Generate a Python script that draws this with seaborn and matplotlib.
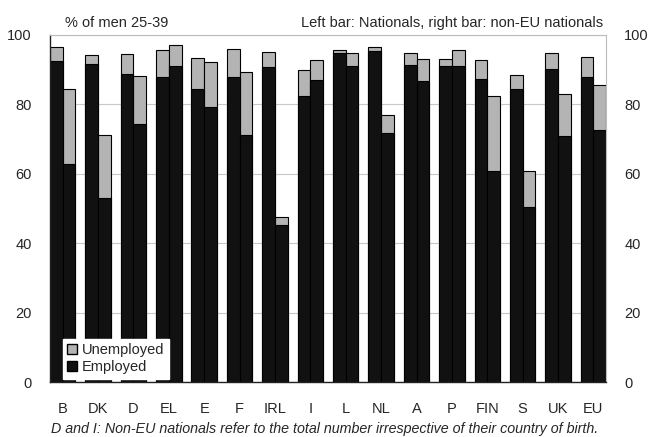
import pandas as pd
import matplotlib.pyplot as plt
import seaborn as sns
from matplotlib.patches import Patch

countries = ['B', 'DK', 'D', 'EL', 'E', 'F', 'IRL', 'I', 'L', 'NL', 'A', 'P', 'FIN', 'S', 'UK', 'EU']
# % of men 25-39, employed and employed+unemployed (total active)
nat_employed = [92.4, 91.5, 88.9, 87.8, 84.5, 87.9, 90.8, 82.3, 94.7, 95.3, 91.3, 91.0, 87.2, 84.5, 90.2, 87.8]
nat_total = [96.6, 94.2, 94.6, 95.6, 93.5, 96.0, 95.1, 89.9, 95.6, 96.6, 94.7, 93.1, 92.9, 88.6, 94.7, 93.7]
noneu_employed = [62.8, 53.0, 74.5, 91.0, 79.2, 71.3, 45.3, 86.9, 91.0, 71.8, 86.7, 91.0, 60.9, 50.6, 71.0, 72.7]
noneu_total = [84.5, 71.1, 88.1, 97.2, 92.3, 89.3, 47.7, 92.9, 94.7, 77.1, 93.1, 95.6, 82.3, 60.7, 83.1, 85.7]

df = pd.DataFrame({
    'country': countries * 2,
    'group': ['Nationals'] * len(countries) + ['non-EU nationals'] * len(countries),
    'employed': nat_employed + noneu_employed,
    'total': nat_total + noneu_total,
})

sns.set_style('white')
plt.rcParams['font.family'] = ['Liberation Sans', 'DejaVu Sans']
fig, ax = plt.subplots(figsize=(6.49, 4.37), dpi=100)
fig.subplots_adjust(left=0.077, right=0.934, top=0.92, bottom=0.125)

# total first (grey = unemployed part), employed drawn over it in black
sns.barplot(data=df, x='country', y='total', hue='group', palette=['#b4b4b4', '#b4b4b4'],
            width=0.72, gap=0, edgecolor='black', linewidth=0.8, legend=False, ax=ax)
sns.barplot(data=df, x='country', y='employed', hue='group', palette=['#111111', '#111111'],
            width=0.72, gap=0, edgecolor='black', linewidth=0.8, legend=False, ax=ax)

ax.set_xlim(-0.36, 15.36)
ax.set_ylim(0, 100)
ax.set_yticks([0, 20, 40, 60, 80, 100])
ax.yaxis.grid(True, color='#c8c8c8', linewidth=0.8)
ax.set_axisbelow(True)
ax.set_xlabel('')
ax.set_ylabel('')
ax.tick_params(axis='x', length=0, pad=14, labelsize=10.5)
ax.tick_params(axis='y', length=0, pad=13, labelsize=10.5)
ax.tick_params(axis='y', which='both', labelright=True)
for side in ['left', 'bottom']:
    ax.spines[side].set_color('#222222')
    ax.spines[side].set_linewidth(1.0)
for side in ['top', 'right']:
    ax.spines[side].set_color('#bbbbbb')
    ax.spines[side].set_linewidth(0.8)

handles = [Patch(facecolor='#b4b4b4', edgecolor='black', label='Unemployed'),
           Patch(facecolor='#111111', edgecolor='black', label='Employed')]
ax.legend(handles=handles, loc='lower left', bbox_to_anchor=(0.01, -0.01), frameon=True,
          fancybox=False, edgecolor='white', framealpha=1, fontsize=10.5,
          handlelength=0.7, handleheight=0.7, handletextpad=0.3, borderpad=0.3, labelspacing=0.2)

fig.text(0.1, 0.948, '% of men 25-39', fontsize=10.5, va='center', ha='left')
fig.text(0.93, 0.948, 'Left bar: Nationals, right bar: non-EU nationals', fontsize=10.5,
         va='center', ha='right')
fig.text(0.5, 0.018, 'D and I: Non-EU nationals refer to the total number irrespective of their country of birth.',
         fontsize=10.3, style='italic', ha='center', va='center')

plt.savefig('out.png', dpi=100)
